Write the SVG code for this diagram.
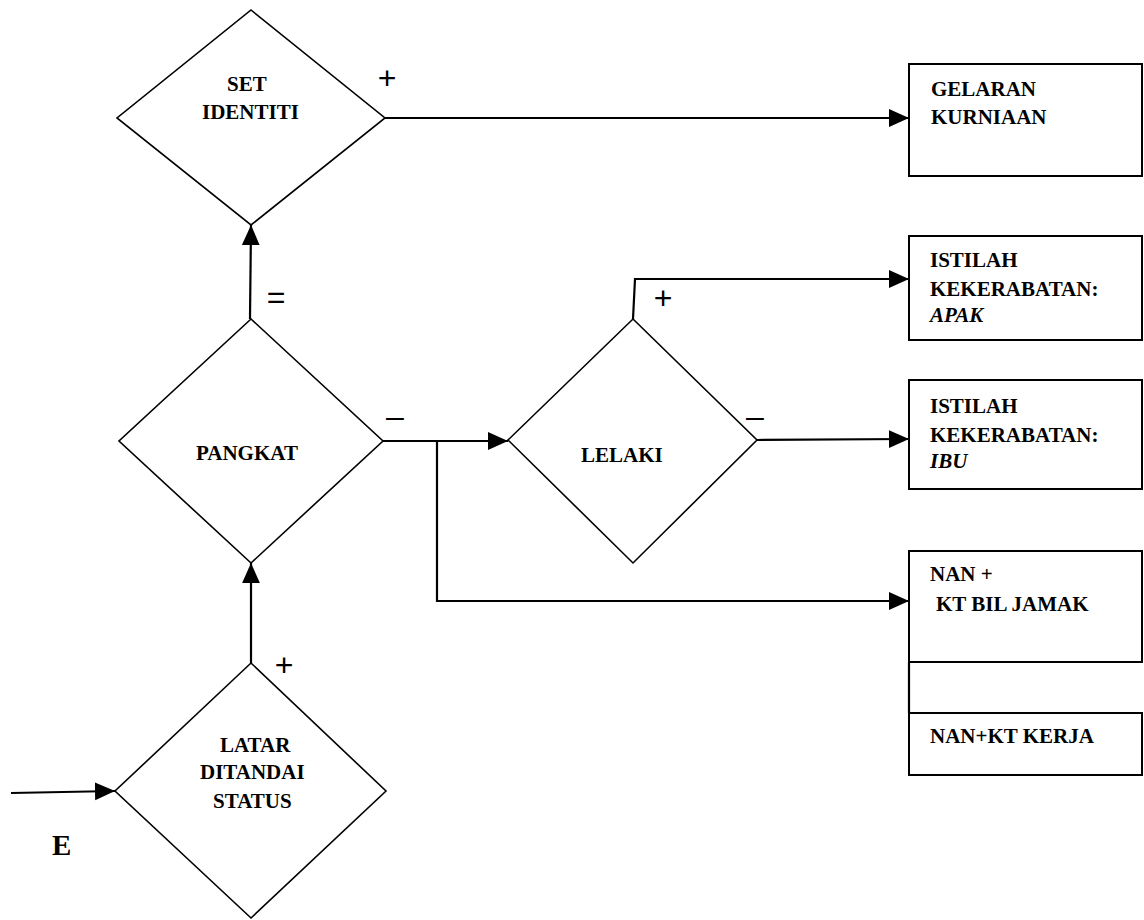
<svg xmlns="http://www.w3.org/2000/svg" width="1144" height="920" viewBox="0 0 1144 920">
<style>
.bg{fill:#fff}
.dia{fill:#fff;stroke:#000;stroke-width:1.6;stroke-linejoin:miter}
.box{fill:#fff;stroke:#000;stroke-width:2}
.t{font-family:"Liberation Serif","Times New Roman",serif;font-weight:bold;font-size:21px;fill:#000}
.it{font-style:italic}
.sym{font-family:"Liberation Sans",Arial,sans-serif;font-size:32px;fill:#000;text-anchor:middle}
.con{fill:none;stroke:#000;stroke-width:2.2}
.arr{marker-end:url(#ah)}
</style>
<defs>
<marker id="ah" markerUnits="userSpaceOnUse" markerWidth="20" markerHeight="20" viewBox="0 0 18 16" refX="18" refY="8" orient="auto">
<path d="M0,0 L18,8 L0,16 Z" fill="#000"/>
</marker>
</defs>
<rect class="bg" x="0" y="0" width="1144" height="920"/>

<g id="connectors">
<path class="con arr" d="M11,793 L115,791"/>
<path class="con arr" d="M251,663 L251,563"/>
<path class="con arr" d="M250,319 L251,225"/>
<path class="con arr" d="M385,118 L909,118"/>
<path class="con arr" d="M383,441 L508,441"/>
<path class="con arr" d="M437,441 L437,601 L909,601"/>
<path class="con arr" d="M633,319 L635,279 L909,279"/>
<path class="con arr" d="M757,440 L909,439"/>
<path class="con" d="M909,662 L909,713"/>
</g>

<g id="node-set-identiti">
<polygon class="dia" points="251,10 385,118 251,225 117,118"/>
<text class="t" x="227" y="91">SET</text>
<text class="t" x="202" y="119">IDENTITI</text>
<text class="sym" x="387" y="89">+</text>
</g>

<g id="node-pangkat">
<polygon class="dia" points="251,319 383,441 251,563 119,441"/>
<text class="t" x="196" y="460">PANGKAT</text>
<text class="sym" x="276" y="308">=</text>
<text class="sym" x="395" y="427">–</text>
</g>

<g id="node-lelaki">
<polygon class="dia" points="633,319 757,440 633,563 508,440"/>
<text class="t" x="581" y="462">LELAKI</text>
<text class="sym" x="663" y="309">+</text>
<text class="sym" x="755" y="427">–</text>
</g>

<g id="node-latar">
<polygon class="dia" points="251,663 386,791 251,918 115,791"/>
<text class="t" x="220" y="752">LATAR</text>
<text class="t" x="200" y="779">DITANDAI</text>
<text class="t" x="213" y="808">STATUS</text>
<text class="sym" x="284" y="676">+</text>
</g>

<g id="label-e">
<text class="t" x="52" y="855" style="font-size:29px">E</text>
</g>

<g id="node-gelaran">
<rect class="box" x="909" y="64" width="233" height="112"/>
<text class="t" x="931" y="96">GELARAN</text>
<text class="t" x="931" y="124">KURNIAAN</text>
</g>

<g id="node-apak">
<rect class="box" x="909" y="236" width="233" height="104"/>
<text class="t" x="930" y="267">ISTILAH</text>
<text class="t" x="930" y="296">KEKERABATAN:</text>
<text class="t it" x="930" y="322">APAK</text>
</g>

<g id="node-ibu">
<rect class="box" x="909" y="380" width="233" height="109"/>
<text class="t" x="930" y="413">ISTILAH</text>
<text class="t" x="930" y="442">KEKERABATAN:</text>
<text class="t it" x="930" y="468">IBU</text>
</g>

<g id="node-nan-jamak">
<rect class="box" x="909" y="551" width="233" height="111"/>
<text class="t" x="930" y="581">NAN +</text>
<text class="t" x="936" y="611">KT BIL JAMAK</text>
</g>

<g id="node-nan-kerja">
<rect class="box" x="909" y="713" width="233" height="62"/>
<text class="t" x="930" y="743">NAN+KT KERJA</text>
</g>
</svg>
